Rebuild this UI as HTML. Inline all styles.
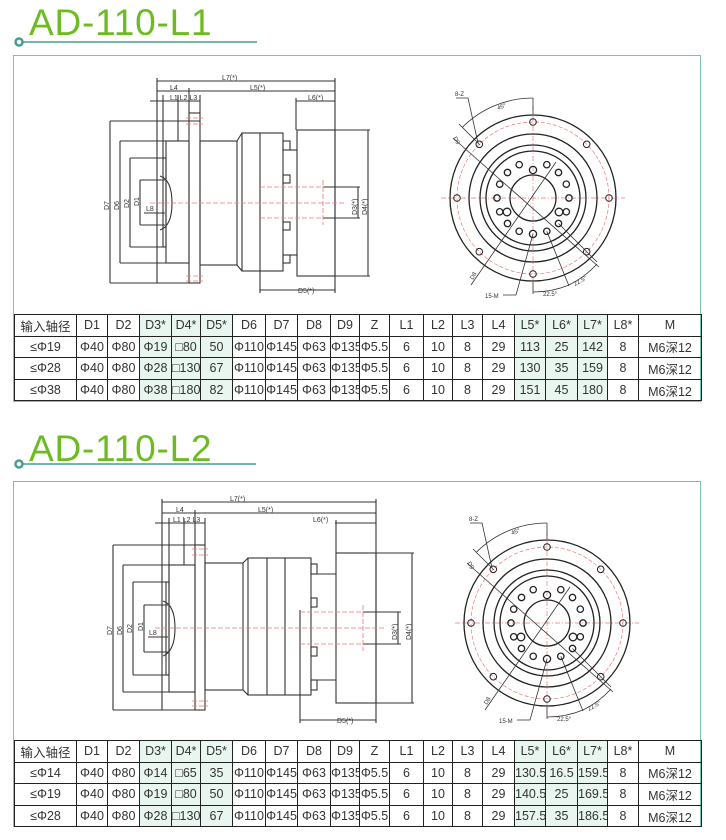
<!DOCTYPE html>
<html><head><meta charset="utf-8"><style>
html,body{margin:0;padding:0;background:#fff;width:726px;height:840px;overflow:hidden;position:relative}
.box{position:absolute;left:13px;width:688px;border:1px solid #78c4b0;box-sizing:border-box}
.title{position:absolute;left:29px;font:37px "Liberation Sans",sans-serif;color:#6cbb22;letter-spacing:0.8px}
table{position:absolute;left:14px;width:687px;border-collapse:collapse;table-layout:fixed;font:12.5px "Liberation Sans","Noto Sans CJK SC",sans-serif;color:#333}
td{border:1px solid #222;text-align:center;padding:0;height:20.6px;white-space:nowrap;overflow:hidden}
td.g{background:#e9f5ef}
svg{position:absolute;left:0;top:0}
</style></head><body>
<div class="box" style="top:55px;height:347px"></div>
<div class="box" style="top:481px;height:346px"></div>
<div class="title" style="top:2px">AD-110-L1</div>
<div class="title" style="top:428px">AD-110-L2</div>

<svg width="726" height="840" viewBox="0 0 726 840">
<defs>
<g id="circ">
 <line x1="-92" y1="0" x2="92" y2="0" stroke="#e77" stroke-width="0.7" stroke-dasharray="5,2,1,2"/>
 <line x1="0" y1="-92" x2="0" y2="92" stroke="#e77" stroke-width="0.7" stroke-dasharray="5,2,1,2"/>
 <circle r="76" fill="none" stroke="#e77" stroke-width="0.7" stroke-dasharray="4,2"/>
 <g fill="none" stroke="#222" stroke-width="1.3">
 <circle r="83"/><circle r="64"/><circle r="53"/><circle r="47"/><circle r="23"/>
 <g stroke-width="1">
 <circle cx="0" cy="-76" r="3.3"/><circle cx="0" cy="76" r="3.3"/><circle cx="-76" cy="0" r="3.3"/><circle cx="76" cy="0" r="3.3"/>
 <circle cx="53.7" cy="53.7" r="3.3"/><circle cx="-53.7" cy="53.7" r="3.3"/><circle cx="53.7" cy="-53.7" r="3.3"/><circle cx="-53.7" cy="-53.7" r="3.3"/>
 </g>
 <g stroke-width="1.3">
 <circle cx="0" cy="-28" r="3.6"/><circle cx="0" cy="36" r="3.6"/>
 <circle cx="-26" cy="14" r="3.8"/><circle cx="26" cy="14" r="3.8"/>
 <circle cx="13.8" cy="-33.3" r="3.2"/><circle cx="-13.8" cy="-33.3" r="3.2"/>
 <circle cx="25.5" cy="-25.5" r="3.2"/><circle cx="-25.5" cy="-25.5" r="3.2"/>
 <circle cx="33.3" cy="-13.8" r="3.2"/><circle cx="-33.3" cy="-13.8" r="3.2"/>
 <circle cx="36" cy="0" r="3.2"/><circle cx="-36" cy="0" r="3.2"/>
 <circle cx="33.3" cy="13.8" r="3.2"/><circle cx="-33.3" cy="13.8" r="3.2"/>
 <circle cx="25.5" cy="25.5" r="3.2"/><circle cx="-25.5" cy="25.5" r="3.2"/>
 <circle cx="13.8" cy="33.3" r="3.2"/><circle cx="-13.8" cy="33.3" r="3.2"/>
 </g>
 </g>
 <g fill="none" stroke="#333" stroke-width="0.8">
 <line x1="-80" y1="-60" x2="66" y2="69"/>
 <line x1="-62" y1="87" x2="23" y2="-36"/>
 <path d="M-77,-100 L-65,-100 L-55,-55"/>
 <path d="M-30,97 L-17,97 L0,36"/>
 <line x1="0" y1="-100" x2="0" y2="-84"/>
 <line x1="-53" y1="-53" x2="-74" y2="-74"/>
 <path d="M-70.7,-70.7 A100,100 0 0 1 0,-100"/>
 <line x1="0" y1="84" x2="0" y2="96"/>
 <line x1="13.8" y1="33.3" x2="36" y2="88"/>
 <line x1="25.5" y1="25.5" x2="64" y2="64"/>
 <path d="M0,94 A94,94 0 0 0 36,87"/>
 <path d="M36,87 A94,94 0 0 0 64,66"/>
 </g>
 <g font-family="Liberation Sans,sans-serif" font-size="6" fill="#333">
 <text x="-78" y="-102">8-Z</text>
 <text x="-35" y="-88" transform="rotate(-20 -35 -88)">45°</text>
 <text x="-80" y="-60" transform="rotate(60 -80 -60)">D9</text>
 <text x="-60" y="82" transform="rotate(-60 -60 82)">D8</text>
 <text x="-48" y="100">15-M</text>
 <text x="10" y="98">22.5°</text>
 <text x="42" y="88" transform="rotate(-30 42 88)">22.5°</text>
 </g>
</g>
</defs>

<g stroke="#4a9e8e" stroke-width="1.5" fill="none">
<line x1="23" y1="42" x2="257" y2="42"/><circle cx="19" cy="42" r="3.5" stroke-width="2.5"/>
<line x1="23" y1="464" x2="256" y2="464"/><circle cx="19" cy="464" r="3.5" stroke-width="2.5"/>
</g>

<!-- drawing 1 -->
<g fill="none" stroke="#333" stroke-width="1.1">
 <line x1="157" y1="81" x2="335" y2="81"/>
 <line x1="157" y1="91" x2="335" y2="91"/>
 <line x1="150" y1="101" x2="200" y2="101"/>
 <line x1="296" y1="101" x2="335" y2="101"/>
 <line x1="157" y1="78" x2="157" y2="283"/>
 <line x1="163" y1="95" x2="163" y2="160"/>
 <line x1="178" y1="95" x2="178" y2="141"/>
 <line x1="189" y1="88" x2="189" y2="113"/>
 <line x1="200" y1="95" x2="200" y2="113"/>
 <line x1="335" y1="78" x2="335" y2="293"/>
 <line x1="296" y1="98" x2="296" y2="130"/>
 <line x1="110" y1="121" x2="200" y2="121"/><line x1="110" y1="283" x2="200" y2="283"/><line x1="110" y1="121" x2="110" y2="283"/>
 <line x1="120" y1="141" x2="166" y2="141"/><line x1="120" y1="263" x2="166" y2="263"/><line x1="120" y1="141" x2="120" y2="263"/>
 <line x1="130" y1="158" x2="163" y2="158"/><line x1="130" y1="247" x2="163" y2="247"/><line x1="130" y1="158" x2="130" y2="247"/>
 <line x1="140" y1="180" x2="165" y2="180"/><line x1="140" y1="225" x2="165" y2="225"/><line x1="140" y1="180" x2="140" y2="225"/>
 <line x1="144" y1="213" x2="165" y2="213"/>
 <path d="M160,176 Q172,180 172,203 Q172,226 160,230"/>
 <rect x="163" y="158" width="3" height="89"/>
 <rect x="166" y="141" width="23" height="122"/>
 <rect x="189" y="113" width="11" height="170"/>
 <rect x="200" y="141" width="37" height="124"/>
 <path d="M237,141 L242,133 M237,265 L242,271"/>
 <rect x="242" y="133" width="41" height="138"/>
 <line x1="260" y1="133" x2="260" y2="293"/>
 <rect x="283" y="141" width="7" height="9"/><rect x="283" y="175" width="7" height="8"/>
 <rect x="283" y="222" width="7" height="8"/><rect x="283" y="255" width="7" height="8"/>
 <line x1="290" y1="150" x2="297" y2="150"/><line x1="290" y1="255" x2="297" y2="255"/>
 <rect x="297" y="130" width="38" height="146"/>
 <line x1="335" y1="130" x2="370" y2="130"/><line x1="335" y1="276" x2="370" y2="276"/>
 <line x1="368" y1="130" x2="368" y2="276"/>
 <line x1="323" y1="187" x2="360" y2="187"/><line x1="323" y1="218" x2="360" y2="218"/>
 <line x1="358" y1="187" x2="358" y2="218"/>
 <line x1="260" y1="290" x2="335" y2="290"/>
</g>
<g fill="none" stroke="#e77" stroke-width="0.8" stroke-dasharray="5,2">
 <line x1="150" y1="203" x2="345" y2="203"/>
 <line x1="260" y1="187" x2="323" y2="187"/><line x1="260" y1="218" x2="323" y2="218"/>
 <line x1="323" y1="180" x2="323" y2="225"/>
 <line x1="186" y1="118" x2="203" y2="118"/><line x1="186" y1="124" x2="203" y2="124"/>
 <line x1="186" y1="276" x2="203" y2="276"/><line x1="186" y1="281" x2="203" y2="281"/>
</g>
<g font-family="Liberation Sans,sans-serif" font-size="7" fill="#333">
 <text x="222" y="80">L7(*)</text><text x="250" y="90">L5(*)</text><text x="170" y="90">L4</text>
 <text x="170" y="100">L1 L2 L3</text><text x="308" y="100">L6(*)</text>
 <text x="298" y="293">D5(*)</text><text x="146" y="211">L8</text>
 <text transform="translate(109,210) rotate(-90)">D7</text>
 <text transform="translate(119,210) rotate(-90)">D6</text>
 <text transform="translate(129,208) rotate(-90)">D2</text>
 <text transform="translate(139,206) rotate(-90)">D1</text>
 <text transform="translate(357,215) rotate(-90)">D3(*)</text>
 <text transform="translate(367,215) rotate(-90)">D4(*)</text>
</g>
<use href="#circ" x="533" y="198"/>

<!-- drawing 2 -->
<g fill="none" stroke="#333" stroke-width="1.1">
 <line x1="162" y1="502" x2="376" y2="502"/>
 <line x1="162" y1="513" x2="376" y2="513"/>
 <line x1="155" y1="523" x2="205" y2="523"/>
 <line x1="335" y1="523" x2="376" y2="523"/>
 <line x1="162" y1="499" x2="162" y2="710"/>
 <line x1="169" y1="518" x2="169" y2="585"/>
 <line x1="184" y1="518" x2="184" y2="565"/>
 <line x1="195" y1="510" x2="195" y2="545"/>
 <line x1="205" y1="518" x2="205" y2="545"/>
 <line x1="376" y1="499" x2="376" y2="723"/>
 <line x1="336" y1="520" x2="336" y2="553"/>
 <line x1="113" y1="545" x2="205" y2="545"/><line x1="113" y1="710" x2="205" y2="710"/><line x1="113" y1="545" x2="113" y2="710"/>
 <line x1="123" y1="565" x2="169" y2="565"/><line x1="123" y1="692" x2="169" y2="692"/><line x1="123" y1="565" x2="123" y2="692"/>
 <line x1="133" y1="582" x2="166" y2="582"/><line x1="133" y1="675" x2="166" y2="675"/><line x1="133" y1="582" x2="133" y2="675"/>
 <line x1="144" y1="605" x2="168" y2="605"/><line x1="144" y1="652" x2="168" y2="652"/><line x1="144" y1="605" x2="144" y2="652"/>
 <line x1="148" y1="637" x2="168" y2="637"/>
 <path d="M163,601 Q175,605 175,628 Q175,651 163,656"/>
 <rect x="166" y="582" width="3" height="93"/>
 <rect x="169" y="565" width="26" height="127"/>
 <rect x="195" y="545" width="10" height="165"/>
 <rect x="205" y="563" width="38" height="127"/>
 <path d="M243,563 L248,558 M243,690 L248,695"/>
 <rect x="248" y="558" width="63" height="137"/>
 <line x1="267" y1="558" x2="267" y2="695"/><line x1="285" y1="558" x2="285" y2="695"/>
 <rect x="311" y="564" width="6" height="10"/><rect x="311" y="598" width="6" height="9"/>
 <rect x="311" y="647" width="6" height="9"/><rect x="311" y="680" width="6" height="10"/>
 <line x1="317" y1="574" x2="336" y2="574"/><line x1="317" y1="680" x2="336" y2="680"/>
 <rect x="336" y="553" width="40" height="150"/>
 <line x1="376" y1="553" x2="414" y2="553"/><line x1="376" y1="703" x2="414" y2="703"/>
 <line x1="412" y1="553" x2="412" y2="703"/>
 <line x1="363" y1="612" x2="401" y2="612"/><line x1="363" y1="644" x2="401" y2="644"/>
 <line x1="398" y1="612" x2="398" y2="644"/>
 <line x1="300" y1="610" x2="300" y2="723"/>
 <line x1="300" y1="720" x2="376" y2="720"/>
</g>
<g fill="none" stroke="#e77" stroke-width="0.8" stroke-dasharray="5,2">
 <line x1="155" y1="628" x2="385" y2="628"/>
 <line x1="300" y1="612" x2="363" y2="612"/><line x1="300" y1="644" x2="363" y2="644"/>
 <line x1="363" y1="605" x2="363" y2="651"/>
 <line x1="192" y1="549" x2="208" y2="549"/><line x1="192" y1="555" x2="208" y2="555"/>
 <line x1="192" y1="701" x2="208" y2="701"/><line x1="192" y1="706" x2="208" y2="706"/>
</g>
<g font-family="Liberation Sans,sans-serif" font-size="7" fill="#333">
 <text x="230" y="501">L7(*)</text><text x="258" y="512">L5(*)</text><text x="176" y="512">L4</text>
 <text x="173" y="522">L1 L2 L3</text><text x="313" y="522">L6(*)</text>
 <text x="337" y="723">D5(*)</text><text x="149" y="635">L8</text>
 <text transform="translate(112,635) rotate(-90)">D7</text>
 <text transform="translate(122,635) rotate(-90)">D6</text>
 <text transform="translate(132,633) rotate(-90)">D2</text>
 <text transform="translate(143,631) rotate(-90)">D1</text>
 <text transform="translate(397,640) rotate(-90)">D3(*)</text>
 <text transform="translate(411,640) rotate(-90)">D4(*)</text>
</g>
<use href="#circ" x="547" y="623"/>
</svg>

<table style="top:314px">
<colgroup><col style="width:62px"><col style="width:31px"><col style="width:32px"><col style="width:32px"><col style="width:29px"><col style="width:32px"><col style="width:33px"><col style="width:32px"><col style="width:33px"><col style="width:29px"><col style="width:30px"><col style="width:34px"><col style="width:29px"><col style="width:30px"><col style="width:32px"><col style="width:31px"><col style="width:32px"><col style="width:30px"><col style="width:31px"><col style="width:63px"></colgroup>
<tr><td>输入轴径</td><td>D1</td><td>D2</td><td class="g">D3*</td><td class="g">D4*</td><td class="g">D5*</td><td>D6</td><td>D7</td><td>D8</td><td>D9</td><td>Z</td><td>L1</td><td>L2</td><td>L3</td><td>L4</td><td class="g">L5*</td><td class="g">L6*</td><td class="g">L7*</td><td>L8*</td><td>M</td></tr>
<tr><td>≤Φ19</td><td>Φ40</td><td>Φ80</td><td class="g">Φ19</td><td class="g">□80</td><td class="g">50</td><td>Φ110</td><td>Φ145</td><td>Φ63</td><td>Φ135</td><td>Φ5.5</td><td>6</td><td>10</td><td>8</td><td>29</td><td class="g">113</td><td class="g">25</td><td class="g">142</td><td>8</td><td>M6深12</td></tr>
<tr><td>≤Φ28</td><td>Φ40</td><td>Φ80</td><td class="g">Φ28</td><td class="g">□130</td><td class="g">67</td><td>Φ110</td><td>Φ145</td><td>Φ63</td><td>Φ135</td><td>Φ5.5</td><td>6</td><td>10</td><td>8</td><td>29</td><td class="g">130</td><td class="g">35</td><td class="g">159</td><td>8</td><td>M6深12</td></tr>
<tr><td>≤Φ38</td><td>Φ40</td><td>Φ80</td><td class="g">Φ38</td><td class="g">□180</td><td class="g">82</td><td>Φ110</td><td>Φ145</td><td>Φ63</td><td>Φ135</td><td>Φ5.5</td><td>6</td><td>10</td><td>8</td><td>29</td><td class="g">151</td><td class="g">45</td><td class="g">180</td><td>8</td><td>M6深12</td></tr>
</table>

<table style="top:740px">
<colgroup><col style="width:62px"><col style="width:31px"><col style="width:32px"><col style="width:32px"><col style="width:29px"><col style="width:32px"><col style="width:33px"><col style="width:32px"><col style="width:33px"><col style="width:29px"><col style="width:30px"><col style="width:34px"><col style="width:29px"><col style="width:30px"><col style="width:32px"><col style="width:31px"><col style="width:32px"><col style="width:30px"><col style="width:31px"><col style="width:63px"></colgroup>
<tr><td>输入轴径</td><td>D1</td><td>D2</td><td class="g">D3*</td><td class="g">D4*</td><td class="g">D5*</td><td>D6</td><td>D7</td><td>D8</td><td>D9</td><td>Z</td><td>L1</td><td>L2</td><td>L3</td><td>L4</td><td class="g">L5*</td><td class="g">L6*</td><td class="g">L7*</td><td>L8*</td><td>M</td></tr>
<tr><td>≤Φ14</td><td>Φ40</td><td>Φ80</td><td class="g">Φ14</td><td class="g">□65</td><td class="g">35</td><td>Φ110</td><td>Φ145</td><td>Φ63</td><td>Φ135</td><td>Φ5.5</td><td>6</td><td>10</td><td>8</td><td>29</td><td class="g">130.5</td><td class="g">16.5</td><td class="g">159.5</td><td>8</td><td>M6深12</td></tr>
<tr><td>≤Φ19</td><td>Φ40</td><td>Φ80</td><td class="g">Φ19</td><td class="g">□80</td><td class="g">50</td><td>Φ110</td><td>Φ145</td><td>Φ63</td><td>Φ135</td><td>Φ5.5</td><td>6</td><td>10</td><td>8</td><td>29</td><td class="g">140.5</td><td class="g">25</td><td class="g">169.5</td><td>8</td><td>M6深12</td></tr>
<tr><td>≤Φ28</td><td>Φ40</td><td>Φ80</td><td class="g">Φ28</td><td class="g">□130</td><td class="g">67</td><td>Φ110</td><td>Φ145</td><td>Φ63</td><td>Φ135</td><td>Φ5.5</td><td>6</td><td>10</td><td>8</td><td>29</td><td class="g">157.5</td><td class="g">35</td><td class="g">186.5</td><td>8</td><td>M6深12</td></tr>
</table>
</body></html>
